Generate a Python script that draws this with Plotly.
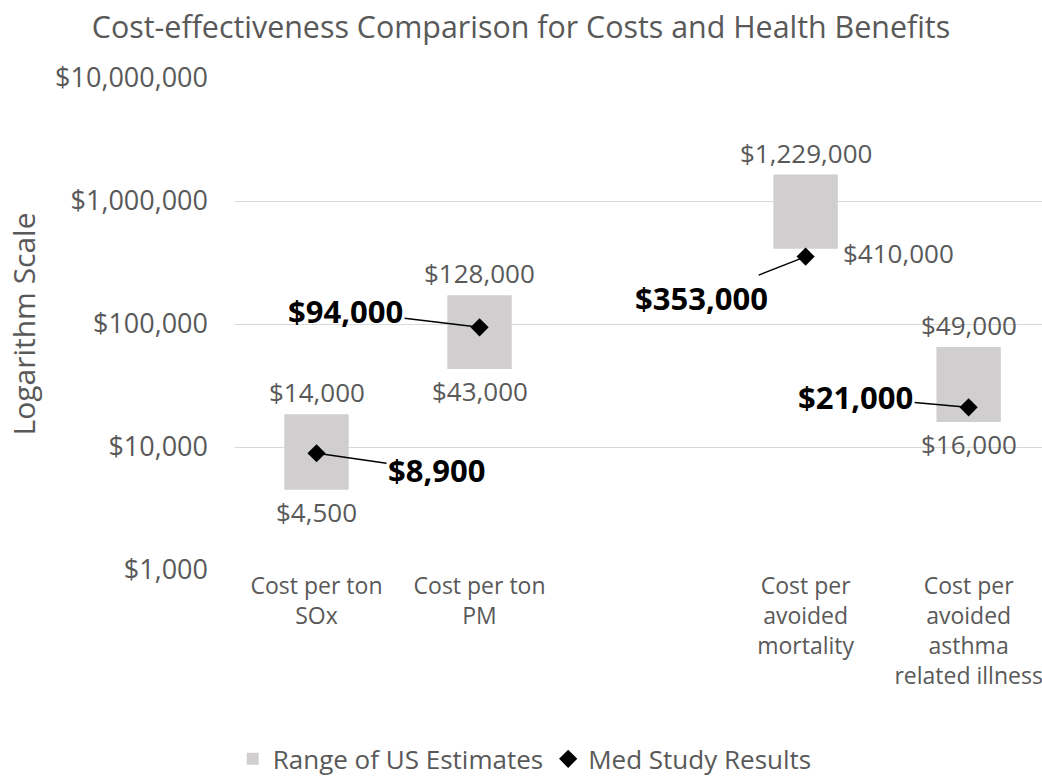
import numpy as np
import plotly.graph_objects as go

categories = ["Cost per ton<br>SOx", "Cost per ton<br>PM", " ",
              "Cost per<br>avoided<br>mortality",
              "Cost per<br>avoided<br>asthma<br>related illness"]
us_low = [4500, 43000, None, 410000, 16000]
us_range = [14000, 128000, None, 1229000, 49000]
med_results = [8900, 94000, None, 353000, 21000]
tick_values = [1000, 10000, 100000, 1000000, 10000000]
tick_labels = ["$1,000", "$10,000", "$100,000", "$1,000,000", "$10,000,000"]

GRAY = "#595959"
FONT = "Open Sans"

fig = go.Figure()

fig.add_trace(go.Bar(
    x=categories, y=us_range, base=us_low, width=0.395,
    marker=dict(color="#D0CECE", line=dict(width=0)),
    name="Range of US Estimates", hoverinfo="skip"))

fig.add_trace(go.Scatter(
    x=categories, y=med_results, mode="markers",
    marker=dict(symbol="diamond", size=14, color="black"),
    name="Med Study Results"))

# range labels: range value above box, low value below box
for i, cat in enumerate(categories):
    if us_low[i] is None:
        continue
    top = np.log10(us_low[i] + us_range[i])
    bottom = np.log10(us_low[i])
    fig.add_annotation(x=cat, y=top, text=f"${us_range[i]:,}", showarrow=False,
                       yshift=22, font=dict(size=26, color=GRAY, family=FONT))
    if i == 3:
        fig.add_annotation(x=cat, y=bottom, text=f"${us_low[i]:,}", showarrow=False,
                           xanchor="left", xshift=35, yshift=-4,
                           font=dict(size=26, color=GRAY, family=FONT))
    else:
        fig.add_annotation(x=cat, y=bottom, text=f"${us_low[i]:,}", showarrow=False,
                           yshift=-22, font=dict(size=26, color=GRAY, family=FONT))

# med study labels with leader lines
offsets = {0: (120, 17), 1: (-134, -16), 3: (-104, 41), 4: (-113, -10)}
for i, (ax, ay) in offsets.items():
    fig.add_annotation(x=categories[i], y=np.log10(med_results[i]),
                       text=f"<b>${med_results[i]:,}</b>",
                       showarrow=True, arrowhead=0, arrowwidth=1.5, arrowcolor="black",
                       ax=ax, ay=ay, standoff=4,
                       font=dict(size=31, color="black", family=FONT))

fig.update_layout(
    width=1042, height=777,
    margin=dict(l=235, r=0, t=78, b=207, autoexpand=False),
    paper_bgcolor="white", plot_bgcolor="white",
    font=dict(family=FONT, color=GRAY),
    title=dict(text="Cost-effectiveness Comparison for Costs and Health Benefits",
               x=0.5, xanchor="center", y=0.965, yanchor="middle",
               font=dict(size=30.4, color=GRAY, family=FONT)),
    showlegend=True,
    legend=dict(orientation="h", x=0.359, xanchor="center", y=-0.384, yanchor="middle",
                font=dict(size=26, color=GRAY, family=FONT), itemwidth=30),
)

fig.update_xaxes(type="category", categoryorder="array", categoryarray=categories,
                 range=[-0.5, 4.45], showgrid=False, showline=False, ticks="",
                 tickfont=dict(size=23, color=GRAY, family=FONT))
fig.update_yaxes(type="log", range=[3, 7], tickvals=tick_values, ticktext=tick_labels,
                 showgrid=True, gridcolor="#D9D9D9", gridwidth=1, zeroline=False,
                 showline=False, ticks="", ticklabelstandoff=26,
                 tickfont=dict(size=27, color=GRAY, family=FONT),
                 title=dict(text="Logarithm Scale", standoff=10,
                            font=dict(size=30, color=GRAY, family=FONT)))

# drop the page's default body margin so the figure fills the window
fig.write_html("out.html", config={"displayModeBar": False},
               post_script="document.body.style.margin='0';document.body.style.overflow='hidden';")
